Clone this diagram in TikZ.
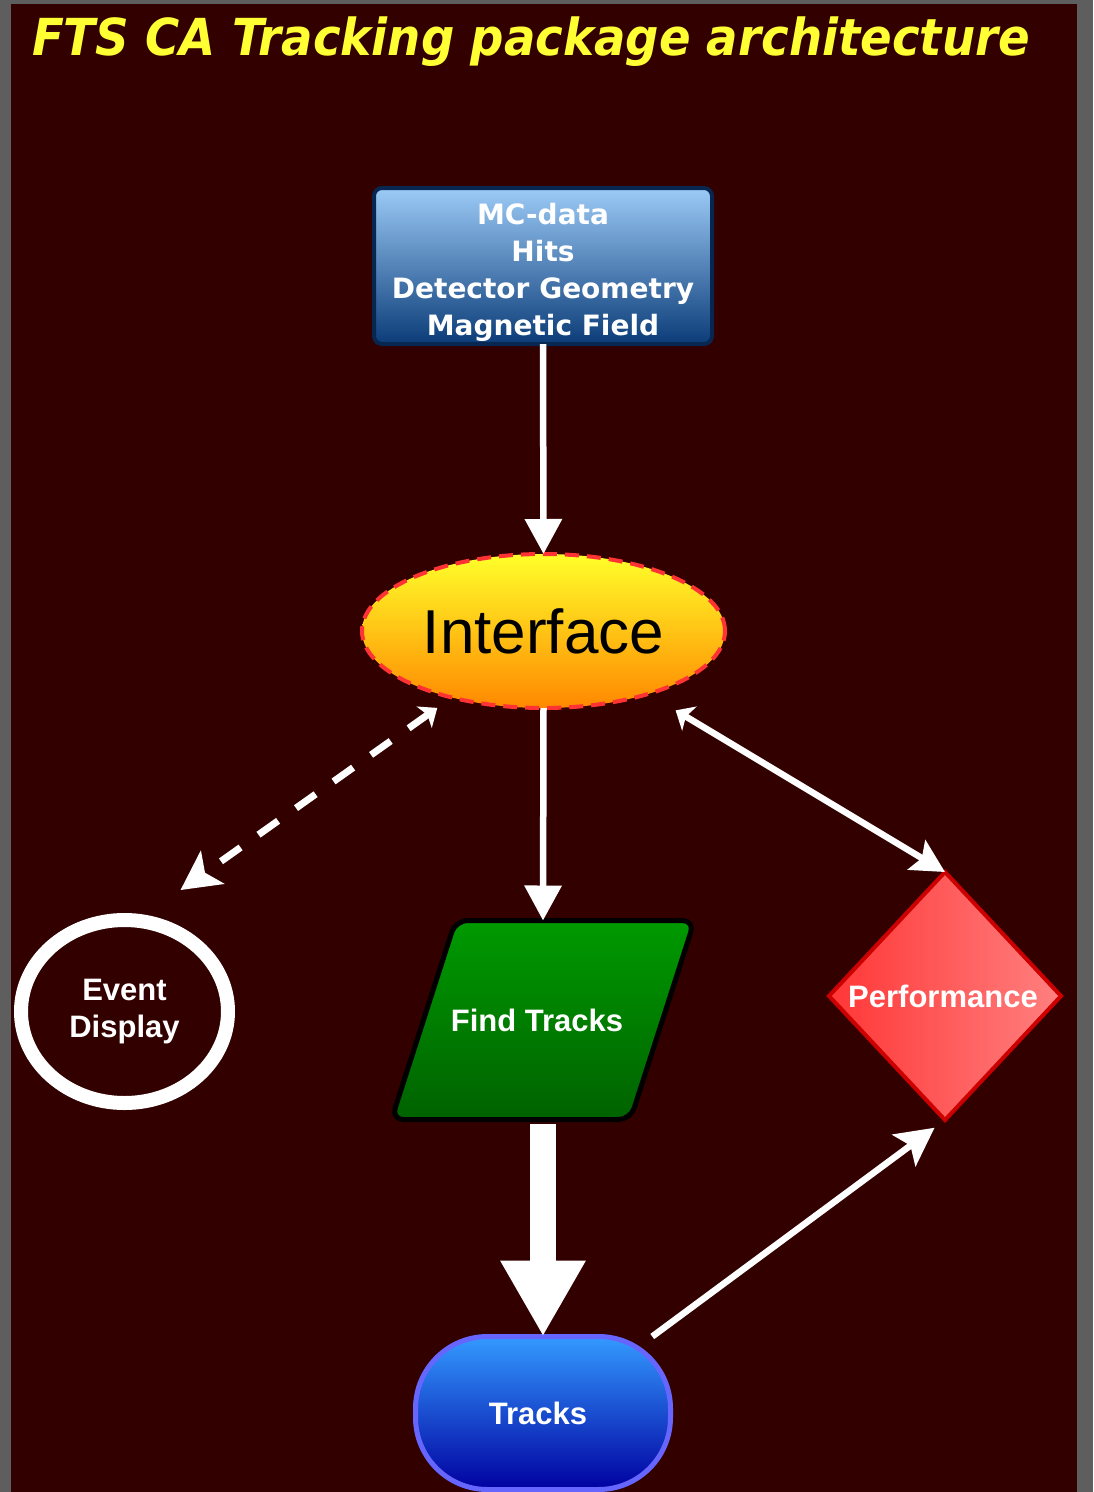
\documentclass[tikz,border=0pt]{standalone}
\usepackage{fontspec}
\setmainfont{Liberation Sans}
\newfontfamily\dejavu{DejaVu Sans}
\usetikzlibrary{arrows.meta,shapes.geometric,backgrounds,calc}
\definecolor{maroonbg}{HTML}{330000}
\definecolor{graybg}{HTML}{5E5E5E}
\definecolor{titleyellow}{HTML}{FFFF33}
\definecolor{mctop}{HTML}{9CCBF7}
\definecolor{mcbot}{HTML}{0B3C78}
\definecolor{mcborder}{HTML}{072650}
\definecolor{iftop}{HTML}{FFFF2A}
\definecolor{ifbot}{HTML}{FF8800}
\definecolor{ifborder}{HTML}{FF3333}
\definecolor{fttop}{HTML}{009A00}
\definecolor{ftbot}{HTML}{006200}
\definecolor{pfleft}{HTML}{FF3636}
\definecolor{pfright}{HTML}{FF8080}
\definecolor{pfborder}{HTML}{CC0000}
\definecolor{trtop}{HTML}{3399FF}
\definecolor{trbot}{HTML}{0000A0}
\definecolor{trborder}{HTML}{6666FF}
\tikzset{
  every node/.style={outer sep=0pt},
  mcbox/.style={rectangle, rounded corners=8pt, line width=4pt, draw=mcborder,
    top color=mctop, bottom color=mcbot, minimum width=338pt, minimum height=156pt,
    text=white, font=\dejavu\bfseries\fontsize{28}{37}\selectfont},
  ifell/.style={ellipse, line width=4pt, draw=ifborder, dash pattern=on 14pt off 8pt,
    top color=iftop, bottom color=ifbot, minimum width=363pt, minimum height=154pt,
    inner sep=0pt, font=\fontsize{62}{62}\selectfont, text=black},
  evell/.style={ellipse, line width=14pt, draw=white, fill=maroonbg,
    minimum width=207pt, minimum height=183pt, inner sep=0pt, text=white, align=center,
    font=\bfseries\fontsize{31}{37}\selectfont},
  ftnode/.style={rectangle, minimum width=303pt, minimum height=199pt, inner sep=0pt,
    text=white, font=\bfseries\fontsize{31}{37}\selectfont},
  ftshape/.style={line width=5pt, draw=black, rounded corners=12pt, top color=fttop, bottom color=ftbot},
  pfnode/.style={diamond, line width=4pt, draw=pfborder, left color=pfleft, right color=pfright,
    minimum width=232pt, minimum height=248pt, inner sep=0pt, text=white,
    font=\bfseries\fontsize{31}{37}\selectfont},
  trnode/.style={rectangle, rounded corners=72pt, line width=5pt, draw=trborder,
    top color=trtop, bottom color=trbot, minimum width=255pt, minimum height=153pt,
    text=white, font=\bfseries\fontsize{31}{37}\selectfont},
  conn/.style={draw=white, line width=6.5pt},
  vhead/.style={-{Triangle[length=35pt,width=36pt]}},
  dashconn/.style={draw=white, line width=7pt, dash pattern=on 24pt off 22pt}
}
\begin{document}
\begin{tikzpicture}[x=1pt,y=-1pt]
\useasboundingbox (0,0) rectangle (1093,1492);
\begin{scope}[on background layer]
  \fill[graybg] (0,0) rectangle (1093,1492);
  \fill[maroonbg] (11,4) rectangle (1077,1492);
\end{scope}

\node[anchor=base west, inner sep=0pt, text=titleyellow] (title) at (32,55)
  {\resizebox{998pt}{\height}{\dejavu\bfseries\itshape\fontsize{51}{51}\selectfont FTS CA Tracking package architecture}};

\node[mcbox] (mc) at (543,266) {\raisebox{-13pt}[0pt][0pt]{\begin{tabular}{@{}c@{}}MC-data\\Hits\\Detector Geometry\\Magnetic Field\end{tabular}}};
\node[ifell] (iface) at (543.5,631) {Interface};
\node[evell] (ev) at (124.5,1011.5) {Event\\Display};
\node[ftnode] (ft) at (543,1020) {\hspace*{-12pt}Find Tracks};
\begin{scope}[on background layer]
  \path[ftshape] ($(ft.north west)+(64,0)$) -- (ft.north east) -- ($(ft.south east)+(-64,0)$) -- (ft.south west) -- cycle;
\end{scope}
\node[pfnode] (perf) at (945,996) {\makebox[0pt]{\hspace*{-4pt}Performance}};
\node[trnode] (tracks) at (543,1413) {\hspace*{-10pt}Tracks};

\draw[conn, vhead] (mc.south) -- (iface.north);
\draw[conn, vhead] (iface.south) -- (ft.north);
\draw[draw=white, line width=26pt, shorten <=4pt, -{Triangle[length=76pt,width=80pt]}] (ft.south) -- (tracks.north);
\draw[dashconn, {Stealth[length=16pt,width=26pt,inset=4pt]}-{Stealth[length=39pt,width=40pt,inset=9pt]},
  shorten <=18pt, shorten >=53pt] (iface.216) -- (ev.82);
\draw[conn, {Stealth[length=16pt,width=28pt,inset=4pt]}-{Stealth[length=33pt,width=34pt,inset=6pt]},
  shorten <=32pt] (iface.329) -- (perf.north);
\draw[conn, -{Stealth[length=38pt,width=39pt,inset=8pt]}, shorten >=13pt] (tracks.35) -- (perf.south);
\end{tikzpicture}
\end{document}
